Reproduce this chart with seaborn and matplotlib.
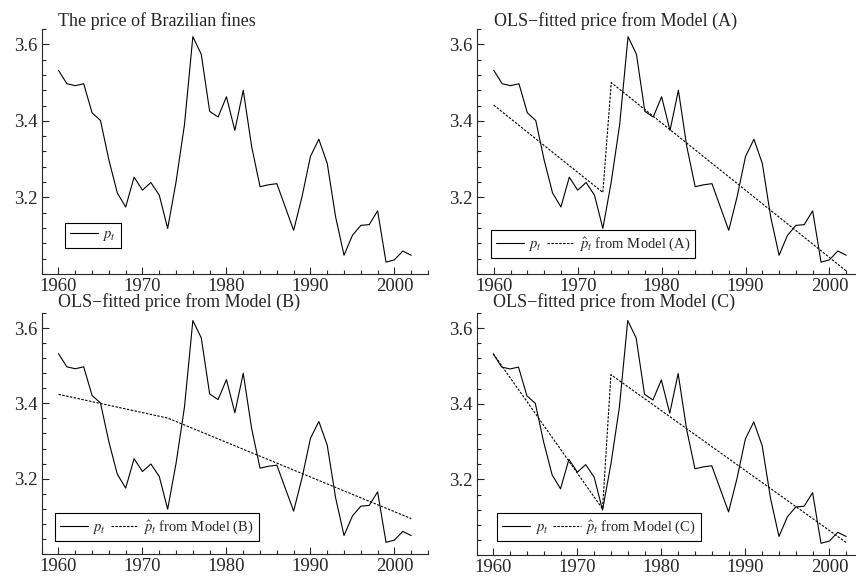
import numpy as np
import pandas as pd
import matplotlib
matplotlib.use("Agg")
import matplotlib.pyplot as plt
import matplotlib.ticker as mticker
import seaborn as sns

# data
years = list(range(1960, 2003))
price = [3.532, 3.497, 3.492, 3.497, 3.421, 3.401, 3.298, 3.212, 3.175, 3.253,
         3.219, 3.239, 3.206, 3.119, 3.241, 3.390, 3.620, 3.574, 3.425, 3.410,
         3.463, 3.375, 3.480, 3.333, 3.228, 3.233, 3.236, 3.175, 3.114, 3.202,
         3.307, 3.352, 3.289, 3.149, 3.049, 3.101, 3.127, 3.129, 3.165, 3.031,
         3.037, 3.060, 3.049]

# fitted values at the ends of each straight piece
fit_a_years = [1960, 1973, 1974, 2002]
fit_a = [3.441, 3.213, 3.500, 3.008]
fit_b_years = [1960, 1973, 2002]
fit_b = [3.424, 3.361, 3.094]
fit_c_years = [1960, 1973, 1974, 2002]
fit_c = [3.532, 3.122, 3.477, 3.033]

titles = ["The price of Brazilian fines",
          "OLS\u2212fitted price from Model (A)",
          "OLS\u2212fitted price from Model (B)",
          "OLS\u2212fitted price from Model (C)"]

sns.set_style("ticks")
plt.rcParams["font.family"] = ["Liberation Serif", "DejaVu Serif"]
plt.rcParams["mathtext.fontset"] = "stix"

df = pd.DataFrame({"year": years, "price": price})

fig = plt.figure(figsize=(8.56, 5.81), dpi=100)
W, H = 856, 581

def make_ax(left, right, top, bottom):
    return fig.add_axes([left / W, (H - bottom) / H, (right - left) / W, (bottom - top) / H])

axes = [make_ax(41.7, 428, 29, 274),
        make_ax(477, 863, 29, 274),
        make_ax(41.7, 428, 313, 554),
        make_ax(476.5, 863, 313, 555)]

fits = [None, (fit_a_years, fit_a, "A"), (fit_b_years, fit_b, "B"), (fit_c_years, fit_c, "C")]
leg_pos = [(0.060, 0.106), (0.036, 0.065), (0.034, 0.054), (0.054, 0.058)]
title_y = [1.033, 1.033, 1.047, 1.047]

for i, ax in enumerate(axes):
    sns.lineplot(data=df, x="year", y="price", ax=ax, color="black", lw=0.8,
                 label=r"$p_t$")
    if fits[i] is not None:
        fx, fy, name = fits[i]
        sns.lineplot(x=fx, y=fy, ax=ax, color="black", lw=0.8,
                     linestyle=(0, (2.2, 1.3)),
                     label=r"$\hat{p}_t$ from Model (%s)" % name)

    ax.set_xlim(1958, 2004)
    ax.set_ylim(3.0, 3.64)
    ax.xaxis.set_major_locator(mticker.MultipleLocator(10))
    ax.xaxis.set_minor_locator(mticker.MultipleLocator(2))
    ax.yaxis.set_major_locator(mticker.FixedLocator([3.2, 3.4, 3.6]))
    ax.yaxis.set_minor_locator(mticker.FixedLocator(np.arange(3.0, 3.65, 0.04)))
    ax.yaxis.set_major_formatter(mticker.FormatStrFormatter("%.1f"))
    ax.tick_params(which="both", direction="in", width=0.8, labelsize=13.5, pad=3)
    ax.tick_params(which="major", length=5)
    ax.tick_params(which="minor", length=3)
    ax.set_xlabel("")
    ax.set_ylabel("")
    for s in ["top", "right"]:
        ax.spines[s].set_visible(False)
    for s in ["left", "bottom"]:
        ax.spines[s].set_linewidth(0.8)

    ax.text(1960, title_y[i], titles[i], transform=ax.get_xaxis_transform(),
            ha="left", va="center", fontsize=13)

    leg = ax.legend(loc="lower left", bbox_to_anchor=leg_pos[i], ncol=2,
                    frameon=True, fancybox=False, edgecolor="black",
                    framealpha=1, borderaxespad=0, handlelength=1.9,
                    handletextpad=0.3, columnspacing=0.35, borderpad=0.35,
                    fontsize=10.5)
    leg.get_frame().set_linewidth(0.8)

fig.savefig("out.png", dpi=100)
